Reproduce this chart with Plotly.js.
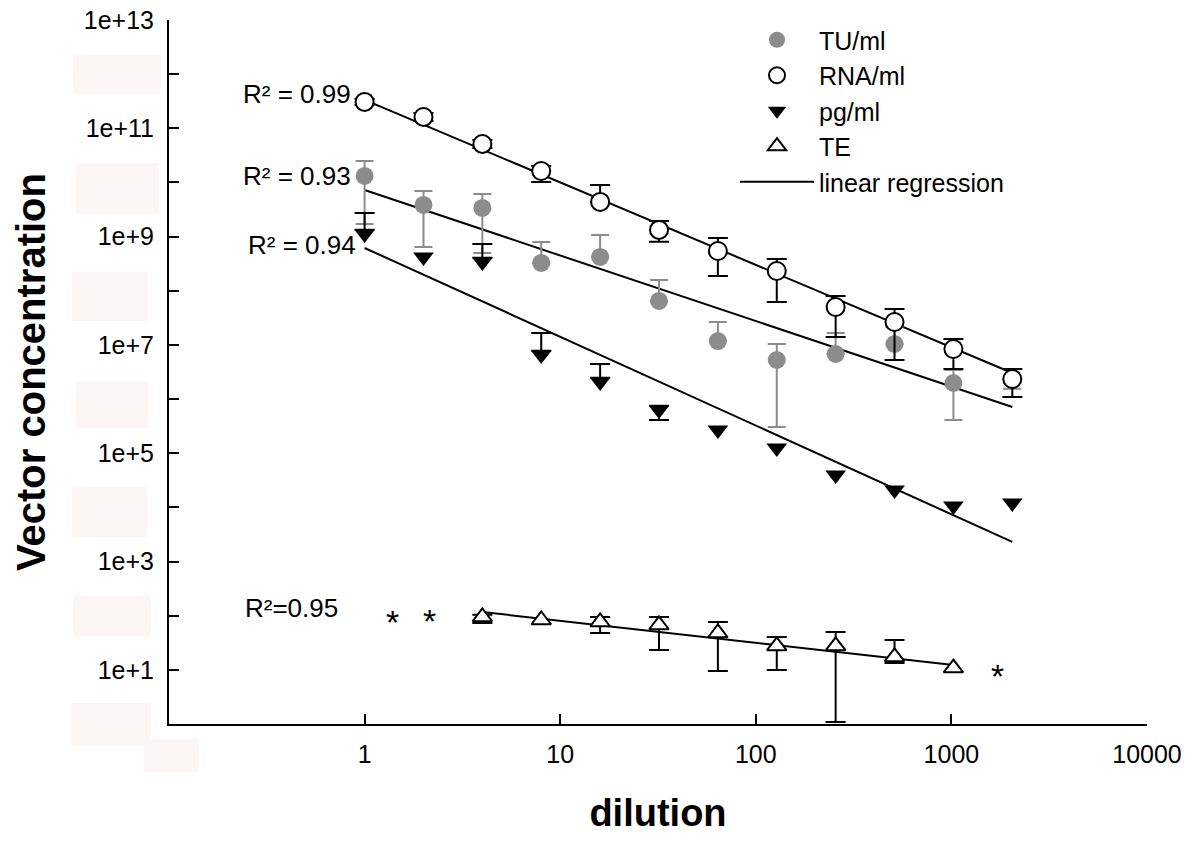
<!DOCTYPE html>
<html>
<head>
<meta charset="utf-8">
<script src="https://cdn.plot.ly/plotly-3.0.1.min.js"></script>
<style>html,body{margin:0;padding:0;background:#fff;}#chart{width:1200px;height:849px;}</style>
</head>
<body>
<div id="chart"></div>
<script>
// ---- data ----
const dilution = [1, 2, 4, 8, 16, 32, 64, 128, 256, 512, 1024, 2048];

const tuVal = [1.32e10, 3.84e9, 3.38e9, 3.26e8, 4.21e8, 6.48e7, 1.18e7, 5.27e6, 6.80e6, 1.04e7, 1.98e6, 2.3e6];
const tuHi  = [2.49e10, 6.97e9, 6.14e9, 7.96e8, 1.07e9, 1.58e8, 2.65e7, 1.04e7, 1.66e7, 2.14e7, 3.45e6, 2.3e6];
const tuLo  = [1.71e9, 6.44e8, 4.99e8, 3.26e8, 4.21e8, 6.48e7, 1.18e7, 3.05e5, 6.80e6, 1.04e7, 4.11e5, 1.55e6];

const rnaVal = [3.07e11, 1.62e11, 5.14e10, 1.63e10, 4.37e9, 1.33e9, 5.43e8, 2.32e8, 5.02e7, 2.65e7, 8.41e6, 2.35e6];
const rnaHi  = [3.48e11, 1.92e11, 6.09e10, 2.02e10, 9.0e9, 1.95e9, 9.44e8, 3.87e8, 8.02e7, 4.61e7, 1.29e7, 3.60e6];
const rnaLo  = [2.70e11, 1.37e11, 4.34e10, 1.02e10, 4.37e9, 8.05e8, 1.88e8, 6.21e7, 1.40e7, 5.27e6, 3.60e6, 1.09e6];

const pgVal = [1.12e9, 4.21e8, 3.40e8, 6.52e6, 2.07e6, 6.29e5, 2.69e5, 1.25e5, 3.97e4, 2.10e4, 1.06e4, 1.21e4];
const pgHi  = [2.73e9, 4.21e8, 7.31e8, 1.66e7, 4.45e6, 6.29e5, 2.69e5, 1.25e5, 3.97e4, 2.10e4, 1.06e4, 1.21e4];
const pgLo  = [1.12e9, 4.21e8, 3.40e8, 6.52e6, 2.07e6, 4.11e5, 2.69e5, 1.25e5, 3.97e4, 2.10e4, 1.06e4, 1.21e4];

const teX   = [4, 8, 16, 32, 64, 128, 256, 512, 1024];
const teVal = [94.6, 83.3, 76.5, 67.3, 47.9, 27.6, 27.6, 17.3, 10.8];
const teHi  = [104, 83.3, 94.6, 94.6, 76.5, 40.4, 50.0, 35.6, 10.8];
const teLo  = [73.3, 83.3, 47.9, 23.3, 9.5, 9.9, 1.09, 13.4, 10.8];

// linear regression end points
const rnaFitX = [1, 2048], rnaFitY = [3.34e11, 3.03e6];
const tuFitX  = [1, 2048], tuFitY  = [7.27e9, 7.15e5];
const pgFitX  = [1, 2048], pgFitY  = [6.17e8, 2.30e3];
const teFitX  = [4, 1024], teFitY  = [117, 12.3];

const r2Labels = ['R\u00b2 = 0.99', 'R\u00b2 = 0.93', 'R\u00b2 = 0.94', 'R\u00b2=0.95'];
const starLabel = '*';

const xTickVals = [1, 10, 100, 1000, 10000];
const xTickText = ['1', '10', '100', '1000', '10000'];
const xMinorVals = [0.1];
const yTickVals = [1e1, 1e3, 1e5, 1e7, 1e9, 1e11, 1e13];
const yTickText = ['1e+1', '1e+3', '1e+5', '1e+7', '1e+9', '1e+11', '1e+13'];
const yMinorVals = [1, 1e2, 1e4, 1e6, 1e8, 1e10, 1e12];

const seriesNames = ['TU/ml', 'RNA/ml', 'pg/ml', 'TE', 'linear regression'];

// ---- helpers ----
const FONT = 'Arial, "Liberation Sans", Helvetica, sans-serif';
// error deltas; a missing side is tucked under the marker where it is widest
function errs(val, hi, lo, tuck) {
  const up = [], dn = [];
  for (let i = 0; i < val.length; i++) {
    const v = val[i];
    const hasUp = hi[i] > v * 1.0001, hasDn = lo[i] < v * 0.9999;
    if (!hasUp && !hasDn) { up.push(NaN); dn.push(NaN); continue; }
    let u = hasUp ? hi[i] - v : 0;
    let d = hasDn ? v - lo[i] : 0;
    if (tuck) {
      if (!hasUp) u = v * tuck - v;
      if (!hasDn) d = v - v * tuck;
    }
    up.push(u); dn.push(d);
  }
  return {up, dn};
}
const L = 169, T = 20, W = 978, H = 704;
const px = x => (x - L) / W;
const py = y => (T + H - y) / H;

const tuE = errs(tuVal, tuHi, tuLo, 0);
const rnaE = errs(rnaVal, rnaHi, rnaLo, 0);
const pgE = errs(pgVal, pgHi, pgLo, 1.2);
const teE = errs(teVal, teHi, teLo, 1 / 1.2);

const grey = '#8c8c8c';
const fitLine = {color: '#000', width: 2};

const traces = [
  {x: rnaFitX, y: rnaFitY, mode: 'lines', line: fitLine, name: seriesNames[4], legendgroup: 'fit', legendrank: 5, showlegend: true, hoverinfo: 'skip'},
  {x: tuFitX, y: tuFitY, mode: 'lines', line: fitLine, name: seriesNames[4], legendgroup: 'fit', showlegend: false, hoverinfo: 'skip'},
  {x: pgFitX, y: pgFitY, mode: 'lines', line: fitLine, name: seriesNames[4], legendgroup: 'fit', showlegend: false, hoverinfo: 'skip'},
  {x: teFitX, y: teFitY, mode: 'lines', line: fitLine, name: seriesNames[4], legendgroup: 'fit', showlegend: false, hoverinfo: 'skip'},
  {x: dilution, y: tuVal, mode: 'markers', name: seriesNames[0], legendgroup: 'tu', legendrank: 1,
   marker: {symbol: 'circle', size: 18, color: grey, line: {width: 0}},
   error_y: {type: 'data', symmetric: false, array: tuE.up, arrayminus: tuE.dn, color: grey, thickness: 2, width: 9}},
  {x: dilution, y: pgVal, mode: 'markers', name: seriesNames[2], legendgroup: 'pg', legendrank: 3,
   marker: {symbol: 'triangle-down', size: 18, color: '#000', line: {width: 0}},
   error_y: {type: 'data', symmetric: false, array: pgE.up, arrayminus: pgE.dn, color: '#000', thickness: 2, width: 10}},
  {x: dilution, y: rnaVal, mode: 'markers', name: seriesNames[1], legendgroup: 'rna', legendrank: 2,
   marker: {symbol: 'circle', size: 18, color: '#fff', line: {width: 2, color: '#000'}},
   error_y: {type: 'data', symmetric: false, array: rnaE.up, arrayminus: rnaE.dn, color: '#000', thickness: 2, width: 10}},
  {x: teX, y: teVal, mode: 'markers', name: seriesNames[3], legendgroup: 'te', legendrank: 4,
   marker: {symbol: 'triangle-up', size: 17, color: '#fff', line: {width: 2, color: '#000'}},
   error_y: {type: 'data', symmetric: false, array: teE.up, arrayminus: teE.dn, color: '#000', thickness: 2, width: 10}}
];

const ann = (text, x, y, xanchor, size) => ({
  text, xref: 'paper', yref: 'paper', x: px(x), y: py(y), xanchor, yanchor: 'middle',
  showarrow: false, font: {family: FONT, size, color: '#000'}
});

const annotations = [
  ann(r2Labels[0], 353, 94, 'right', 26),
  ann(r2Labels[1], 353, 176, 'right', 26),
  ann(r2Labels[2], 358, 245, 'right', 26),
  ann(r2Labels[3], 243, 608, 'left', 26),
  ann(starLabel, 392, 622, 'center', 34),
  ann(starLabel, 429, 621, 'center', 34),
  ann(starLabel, 997, 676, 'center', 34)
];

// faint pinkish boxes that mask labels in the original figure
const boxFill = '#fcf6f5';
const box = (x0, y0, x1, y1) => ({type: 'rect', xref: 'paper', yref: 'paper', x0: px(x0), x1: px(x1), y0: py(y1), y1: py(y0),
  fillcolor: boxFill, line: {width: 0}, layer: 'below'});
const shapes = [
  box(73, 55, 161, 94), box(76, 163, 159, 214), box(72, 272, 147, 321), box(76, 381, 148, 428),
  box(72, 487, 147, 537), box(73, 596, 151, 636), box(71, 703, 151, 746), box(144, 739, 199, 772)
];

const TICKSIZE = 25;
const minorCommon = {ticks: 'inside', ticklen: 10, tickwidth: 2, tickcolor: '#000', showgrid: false, tickmode: 'array'};

const layout = {
  width: 1200, height: 849,
  font: {family: FONT, size: TICKSIZE, color: '#000'},
  margin: {l: L, r: 1200 - L - W, t: T, b: 849 - T - H},
  paper_bgcolor: '#fff', plot_bgcolor: '#fff',
  showlegend: true,
  legend: {x: px(735), y: py(17), xanchor: 'left', yanchor: 'top', bgcolor: 'rgba(0,0,0,0)',
    font: {family: FONT, size: 25, color: '#000'}, itemwidth: 74, tracegroupgap: 0, traceorder: 'grouped'},
  xaxis: {
    type: 'log', range: [-1, 4], showline: true, linecolor: '#000', linewidth: 2,
    showgrid: false, zeroline: false, ticks: 'inside', ticklen: 10, tickwidth: 2, tickcolor: '#000',
    tickmode: 'array', tickvals: xTickVals, ticktext: xTickText, ticklabelstandoff: 7,
    tickfont: {family: FONT, size: TICKSIZE, color: '#000'},
    minor: Object.assign({}, minorCommon, {tickvals: xMinorVals}),
    title: {text: 'dilution', font: {family: FONT, size: 38, weight: 'bold', color: '#000'}, standoff: 32}
  },
  yaxis: {
    type: 'log', range: [0, 13], showline: true, linecolor: '#000', linewidth: 2,
    showgrid: false, zeroline: false, ticks: 'inside', ticklen: 10, tickwidth: 2, tickcolor: '#000',
    tickmode: 'array', tickvals: yTickVals, ticktext: yTickText, ticklabelstandoff: 8,
    tickfont: {family: FONT, size: TICKSIZE, color: '#000'},
    minor: Object.assign({}, minorCommon, {tickvals: yMinorVals}),
    title: {text: 'Vector concentration', font: {family: FONT, size: 40, weight: 'bold', color: '#000'}, standoff: 26}
  },
  annotations, shapes
};

Plotly.newPlot('chart', traces, layout, {displayModeBar: false, staticPlot: true});
</script>
</body>
</html>
